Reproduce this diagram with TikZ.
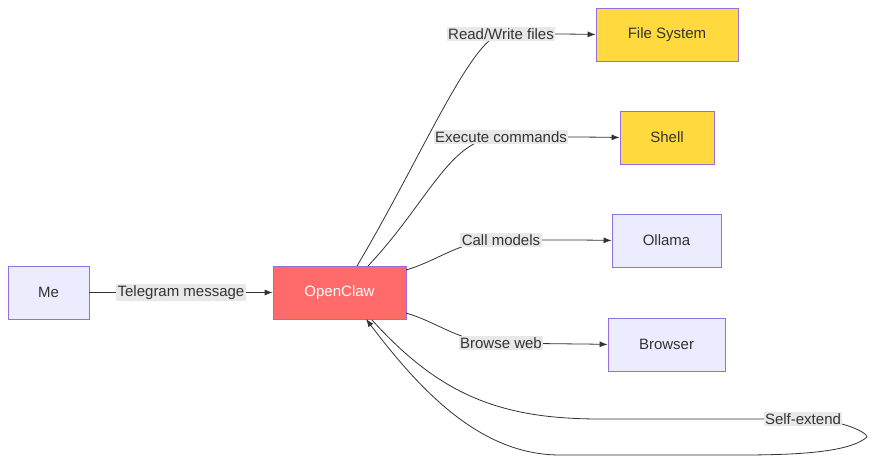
\documentclass[tikz,border=0pt]{standalone}
\usepackage{fontspec}
\setmainfont{Liberation Sans}
\usetikzlibrary{arrows.meta,calc}
\definecolor{lav}{HTML}{ECECFF}
\definecolor{lavs}{HTML}{9370DB}
\definecolor{yel}{HTML}{FFD93D}
\definecolor{red}{HTML}{FF6B6B}
\definecolor{lab}{HTML}{E8E8E8}
\definecolor{ln}{HTML}{333333}
\begin{document}
\begin{tikzpicture}[x=1pt,y=-1pt,
 box/.style={draw=lavs,line width=0.8pt,minimum height=53pt,font=\fontsize{15}{18}\selectfont,text=ln},
 lbl/.style={fill=lab,inner sep=1.5pt,font=\fontsize{15}{18}\selectfont,text=ln},
 e/.style={draw=ln,line width=0.8pt},
 a/.style={e,-{Latex[length=8pt,width=6pt]}}]
\useasboundingbox (0,0) rectangle (884,468);
\node[box,fill=lav,minimum width=81pt] (me) at (48.5,292.5) {Me};
\node[box,fill=red,minimum width=133pt,text=white] (oc) at (339.5,292.5) {OpenClaw};
\node[box,fill=yel,minimum width=142pt] (fs) at (667,34.5) {File System};
\node[box,fill=yel,minimum width=94pt] (sh) at (667,137.5) {Shell};
\node[box,fill=lav,minimum width=109pt] (ol) at (666.5,240.5) {Ollama};
\node[box,fill=lav,minimum width=117pt] (br) at (666.5,344.5) {Browser};
\coordinate (c0) at (181,292.5);
\coordinate (c1) at (501,34);
\coordinate (c2) at (501,137);
\coordinate (c3) at (501,240);
\coordinate (c4) at (501,343);
\coordinate (c5) at (803,419);
\draw[a] (me.east) -- (oc.west);
\draw[e] (357,266) .. controls (420,160) and (470,40) .. (c1);
\draw[a] (c1) .. controls (560,34) and (570,34) .. (fs.west);
\draw[e] (368,266) .. controls (430,200) and (450,137) .. (c2);
\draw[a] (c2) .. controls (580,137) and (590,137) .. (sh.west);
\draw[e] (406,270) .. controls (440,260) and (460,240) .. (c3);
\draw[a] (c3) .. controls (570,240) and (590,240) .. (ol.west);
\draw[e] (406,313) .. controls (440,323) and (460,343) .. (c4);
\draw[a] (c4) .. controls (570,344) and (590,344) .. (br.west);
\draw[e] (372,320) .. controls (440,395) and (500,419) .. (600,419) -- (c5);
\draw[a] (c5) .. controls (840,419) and (867,432) .. (867,437) .. controls (850,452) and (800,455) .. (740,455) -- (560,455) .. controls (480,455) and (420,390) .. (366,319);
\node[lbl] at (c0) {Telegram message};
\node[lbl] at (c1) {Read/Write files};
\node[lbl] at (c2) {Execute commands};
\node[lbl] at (c3) {Call models};
\node[lbl] at (c4) {Browse web};
\node[lbl] at (c5) {Self-extend};
\end{tikzpicture}
\end{document}
